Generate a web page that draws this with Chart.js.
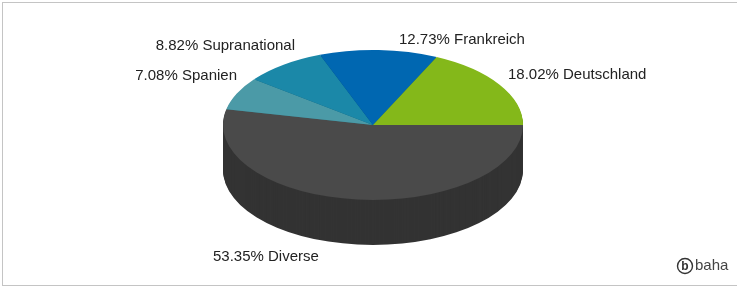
<!DOCTYPE html>
<html>
<head>
<meta charset="utf-8">
<script src="https://cdn.jsdelivr.net/npm/chart.js@4/dist/chart.umd.min.js"></script>
<style>
html,body{margin:0;padding:0;background:#fff;overflow:hidden}
#wrap{position:relative;width:737px;height:291px}
</style>
</head>
<body>
<div id="wrap"><canvas id="c" width="737" height="291"></canvas></div>
<script>
// ---- data (clockwise from 3 o'clock, as drawn) ----
const categories = ['Diverse', 'Spanien', 'Supranational', 'Frankreich', 'Deutschland'];
const shares = [53.35, 7.08, 8.82, 12.73, 18.02];
const topColors = ['#4a4a4a', '#4b9aa7', '#1b88a8', '#0067b1', '#84b81a'];
const sideColors = ['#333333', '#356f78', '#13617a', '#004a80', '#5e8513'];

// ---- layout ----
const CX = 373, CY = 125, RX = 150, RY = 75, DEPTH = 45;
// label anchor: [x, y, align]
const labelLayout = [
  [213, 257, 'left'],
  [237, 76, 'right'],
  [295, 46, 'right'],
  [399, 40, 'left'],
  [508, 75, 'left']
];
const FONT = '15px "Liberation Sans", Arial, sans-serif';

function applyTransform(ctx, el, dy) {
  const R = el.outerRadius;
  ctx.translate(CX, CY + dy);
  ctx.scale(RX / R, RY / R);
  ctx.translate(-el.x, -el.y);
}

const pie3d = {
  id: 'pie3d',
  beforeDraw(chart) {
    const ctx = chart.ctx;
    ctx.save();
    ctx.fillStyle = '#ffffff';
    ctx.fillRect(0, 0, chart.width, chart.height);
    ctx.strokeStyle = '#c4c4c4';
    ctx.lineWidth = 1;
    ctx.strokeRect(2.5, 2.5, 800, 283);
    ctx.restore();
  },
  beforeDatasetsDraw(chart) {
    const ctx = chart.ctx;
    const els = chart.getDatasetMeta(0).data;
    const ref = els[0];
    for (let d = DEPTH; d >= 1; d--) {
      ctx.save();
      applyTransform(ctx, ref, d);
      els.forEach((el, i) => {
        const o = el.options;
        el.options = Object.assign({}, o, { backgroundColor: sideColors[i], borderWidth: 0 });
        el.draw(ctx);
        el.options = o;
      });
      ctx.restore();
    }
    ctx.save();
    applyTransform(ctx, ref, 0);
  },
  afterDatasetsDraw(chart) {
    const ctx = chart.ctx;
    ctx.restore();
    ctx.save();
    ctx.font = FONT;
    ctx.fillStyle = '#222222';
    ctx.textBaseline = 'middle';
    categories.forEach((cat, i) => {
      const [x, y, align] = labelLayout[i];
      ctx.textAlign = align;
      ctx.fillText(shares[i].toFixed(2) + '% ' + cat, x, y);
    });
    // logo
    ctx.strokeStyle = '#333';
    ctx.lineWidth = 1.4;
    ctx.beginPath();
    ctx.arc(685, 266, 7.5, 0, Math.PI * 2);
    ctx.stroke();
    ctx.fillStyle = '#333';
    ctx.textAlign = 'center';
    ctx.font = 'bold 12px "Liberation Sans", Arial, sans-serif';
    ctx.fillText('b', 685, 266.5);
    ctx.textAlign = 'left';
    ctx.font = '15px "Liberation Sans", Arial, sans-serif';
    ctx.fillStyle = '#444';
    ctx.fillText('baha', 695, 266);
    ctx.restore();
  }
};

new Chart(document.getElementById('c'), {
  type: 'pie',
  data: {
    labels: categories,
    datasets: [{
      data: shares,
      backgroundColor: topColors,
      borderWidth: 0,
      clip: false
    }]
  },
  options: {
    responsive: false,
    devicePixelRatio: 1,
    animation: false,
    events: [],
    rotation: 90,
    layout: { padding: 0 },
    plugins: { legend: { display: false }, tooltip: { enabled: false } }
  },
  plugins: [pie3d]
});
</script>
</body>
</html>
